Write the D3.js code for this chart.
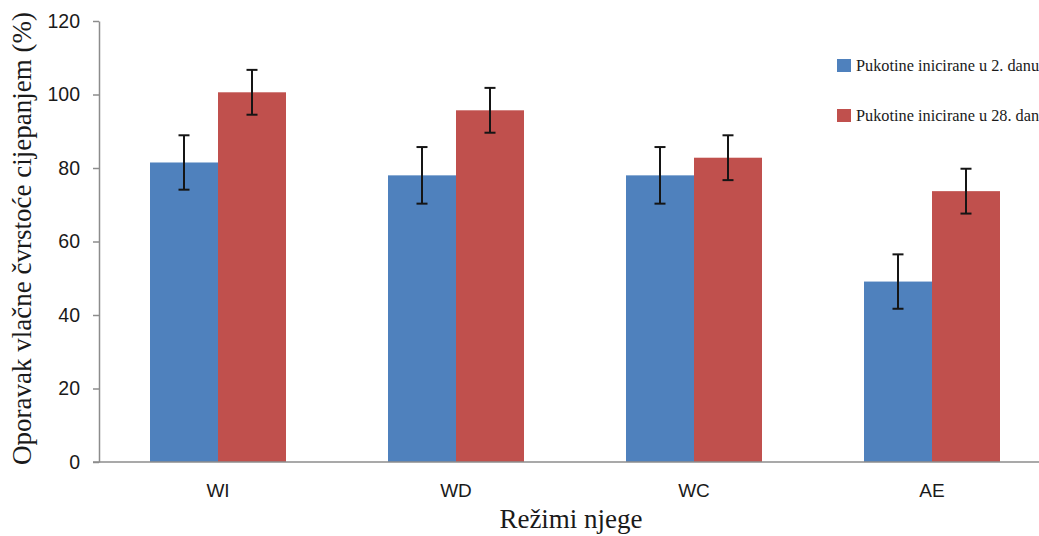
<!DOCTYPE html>
<html>
<head>
<meta charset="utf-8">
<script src="https://cdn.jsdelivr.net/npm/d3@7"></script>
<style>
  html, body { margin: 0; padding: 0; background: #fff; }
  svg { display: block; }
</style>
</head>
<body>
<svg id="chart" width="1039" height="536"></svg>
<script>
const categories = ["WI", "WD", "WC", "AE"];
const seriesNames = ["Pukotine inicirane u 2. danu", "Pukotine inicirane u 28. danu"];
const day2Values = [81.5, 78.0, 78.0, 49.1];
const day2Errors = [7.4, 7.7, 7.7, 7.4];
const day28Values = [100.6, 95.7, 82.8, 73.7];
const day28Errors = [6.1, 6.1, 6.1, 6.1];
const yTicks = [0, 20, 40, 60, 80, 100, 120];
const colors = ["#4F81BD", "#C0504D"];

const svg = d3.select("#chart");
const plotLeft = 99, plotTop = 21, plotBottom = 462, plotRight = 1051;

const x0 = d3.scaleBand().domain(categories).range([plotLeft, plotRight]).padding(0);
const x1 = d3.scaleBand().domain(seriesNames).range([0, x0.bandwidth()])
  .paddingInner(0).paddingOuter(0.75);
const y = d3.scaleLinear().domain([0, 120]).range([plotBottom, plotTop]);

const rows = categories.map((c, i) => ({
  cat: c,
  vals: [
    { s: seriesNames[0], v: day2Values[i], e: day2Errors[i], c: colors[0] },
    { s: seriesNames[1], v: day28Values[i], e: day28Errors[i], c: colors[1] }
  ]
}));

// Bars
const g = svg.append("g");
const groups = g.selectAll("g.grp").data(rows).join("g")
  .attr("transform", d => `translate(${x0(d.cat)},0)`);
groups.selectAll("rect").data(d => d.vals).join("rect")
  .attr("x", d => x1(d.s))
  .attr("width", x1.bandwidth())
  .attr("y", d => y(d.v))
  .attr("height", d => y(0) - y(d.v))
  .attr("fill", d => d.c);

// Error bars
const capW = 5.5;
const eb = groups.selectAll("g.err").data(d => d.vals).join("g")
  .attr("stroke", "#151515").attr("stroke-width", 2);
eb.append("line")
  .attr("x1", d => x1(d.s) + x1.bandwidth() / 2)
  .attr("x2", d => x1(d.s) + x1.bandwidth() / 2)
  .attr("y1", d => y(d.v + d.e)).attr("y2", d => y(d.v - d.e));
eb.append("line")
  .attr("x1", d => x1(d.s) + x1.bandwidth() / 2 - capW)
  .attr("x2", d => x1(d.s) + x1.bandwidth() / 2 + capW)
  .attr("y1", d => y(d.v + d.e)).attr("y2", d => y(d.v + d.e));
eb.append("line")
  .attr("x1", d => x1(d.s) + x1.bandwidth() / 2 - capW)
  .attr("x2", d => x1(d.s) + x1.bandwidth() / 2 + capW)
  .attr("y1", d => y(d.v - d.e)).attr("y2", d => y(d.v - d.e));

// Y axis
const yAxis = svg.append("g").attr("transform", `translate(${plotLeft},0)`)
  .call(d3.axisLeft(y).tickValues(yTicks).tickSize(6).tickSizeOuter(0).tickPadding(13));
yAxis.select(".domain").attr("stroke", "#8c8c8c").attr("stroke-width", 1.5);
yAxis.selectAll(".tick line").attr("stroke", "#8c8c8c").attr("stroke-width", 1.5);
yAxis.selectAll(".tick text")
  .attr("font-family", "'Liberation Sans', Arial, sans-serif")
  .attr("font-size", 19.5).attr("fill", "#1a1a1a");

// X axis
const xAxis = svg.append("g").attr("transform", `translate(0,${plotBottom})`)
  .call(d3.axisBottom(x0).tickSize(0).tickSizeOuter(0).tickPadding(22));
xAxis.select(".domain").attr("stroke", "#8c8c8c").attr("stroke-width", 1.5)
  .attr("d", `M${plotLeft - 6},0H${plotRight}`);
xAxis.selectAll(".tick text")
  .attr("font-family", "'Liberation Sans', Arial, sans-serif")
  .attr("font-size", 19).attr("fill", "#1a1a1a");

// Axis titles
svg.append("text")
  .attr("transform", `translate(31,${(plotTop + plotBottom) / 2 - 3}) rotate(-90)`)
  .attr("text-anchor", "middle")
  .attr("font-family", "'Liberation Serif', 'Times New Roman', serif")
  .attr("font-size", 27).attr("fill", "#1a1a1a")
  .text("Oporavak vlačne čvrstoće cijepanjem (%)");

svg.append("text")
  .attr("x", (plotLeft + plotRight) / 2 - 4).attr("y", 528)
  .attr("text-anchor", "middle")
  .attr("font-family", "'Liberation Serif', 'Times New Roman', serif")
  .attr("font-size", 27).attr("fill", "#1a1a1a")
  .text("Režimi njege");

// Legend
const legend = svg.append("g").attr("transform", "translate(837,59)");
const li = legend.selectAll("g").data(seriesNames).join("g")
  .attr("transform", (d, i) => `translate(0,${i * 50})`);
li.append("rect").attr("width", 14).attr("height", 13)
  .attr("fill", (d, i) => colors[i]);
li.append("text").attr("x", 19).attr("y", 12)
  .attr("font-family", "'Liberation Serif', 'Times New Roman', serif")
  .attr("font-size", 16.3).attr("fill", "#1a1a1a")
  .text(d => d);
</script>
</body>
</html>
